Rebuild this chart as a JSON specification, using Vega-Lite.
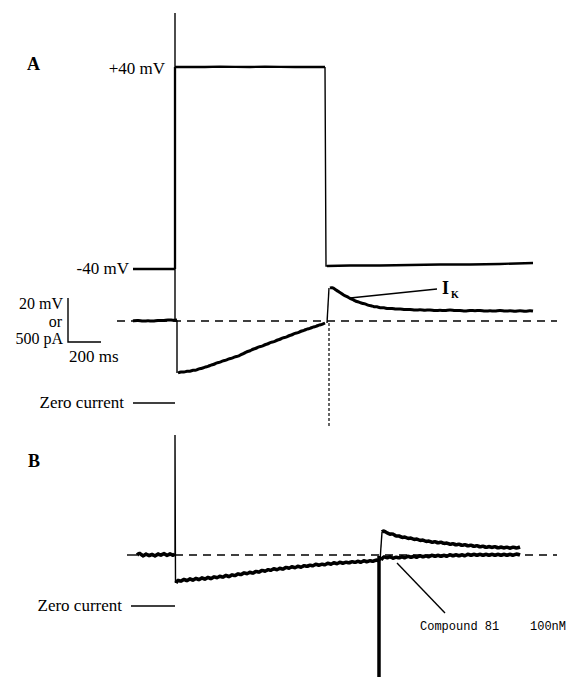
{
"$schema": "https://vega.github.io/schema/vega-lite/v6.json",
"width": 574, "height": 677,
"autosize": {"type": "none"}, "padding": 0, "background": "white",
"config": {"view": {"stroke": null}},
"datasets": {
"voltage": [
{"s":"v1","o":1,"x":133,"y":269},{"s":"v1","o":2,"x":175,"y":269},
{"s":"v2","o":1,"x":175,"y":269},{"s":"v2","o":2,"x":175,"y":67},
{"s":"v3","o":1,"x":175,"y":67},{"s":"v3","o":2,"x":190,"y":66.8},{"s":"v3","o":3,"x":205,"y":67},{"s":"v3","o":4,"x":220,"y":66.6},{"s":"v3","o":5,"x":235,"y":66.8},{"s":"v3","o":6,"x":250,"y":67},{"s":"v3","o":7,"x":265,"y":66.6},{"s":"v3","o":8,"x":280,"y":66.8},{"s":"v3","o":9,"x":295,"y":67},{"s":"v3","o":10,"x":310,"y":66.8},{"s":"v3","o":11,"x":325,"y":67},
{"s":"v4","o":1,"x":327,"y":266},{"s":"v4","o":2,"x":350,"y":265.5},{"s":"v4","o":3,"x":380,"y":265.5},{"s":"v4","o":4,"x":410,"y":265},{"s":"v4","o":5,"x":440,"y":264.5},{"s":"v4","o":6,"x":470,"y":264.5},{"s":"v4","o":7,"x":500,"y":264},{"s":"v4","o":8,"x":533,"y":263}
],
"thin": [
{"s":"t1","o":1,"x":175,"y":13},{"s":"t1","o":2,"x":175,"y":67},
{"s":"t2","o":1,"x":325,"y":67},{"s":"t2","o":2,"x":326,"y":266},{"s":"t2","o":3,"x":328,"y":266},
{"s":"t3","o":1,"x":175,"y":269},{"s":"t3","o":2,"x":175,"y":321},{"s":"t3","o":3,"x":177,"y":321},{"s":"t3","o":4,"x":177,"y":373},
{"s":"t4","o":1,"x":327,"y":323},{"s":"t4","o":2,"x":329,"y":288},
{"s":"t5","o":1,"x":68,"y":298},{"s":"t5","o":2,"x":68,"y":342},{"s":"t5","o":3,"x":101,"y":342},
{"s":"t6","o":1,"x":133,"y":403},{"s":"t6","o":2,"x":175,"y":403},
{"s":"t7","o":1,"x":131,"y":606},{"s":"t7","o":2,"x":175,"y":606},
{"s":"t8","o":1,"x":350,"y":298},{"s":"t8","o":2,"x":437,"y":289},
{"s":"t9","o":1,"x":175,"y":555},{"s":"t9","o":2,"x":175,"y":435},{"s":"t9","o":3,"x":175.5,"y":583},
{"s":"t10","o":1,"x":380,"y":561},{"s":"t10","o":2,"x":382,"y":532},
{"s":"t11","o":1,"x":397,"y":563},{"s":"t11","o":2,"x":445,"y":613},
{"s":"t12","o":1,"x":127,"y":555},{"s":"t12","o":2,"x":137,"y":555}
],
"dashed": [
{"s":"d1","x":117,"y":321},{"s":"d1","x":557,"y":321},
{"s":"d2","x":175,"y":555},{"s":"d2","x":557,"y":555}
],
"dotted": [
{"s":"p1","x":329,"y":323},{"s":"p1","x":329,"y":428}
],
"heavy": [
{"s":"h1","o":1,"x":379,"y":556},{"s":"h1","o":2,"x":379,"y":677}
],
"currentA": [
{"s":"a1","o":1,"x":133,"y":321},{"s":"a1","o":2,"x":138,"y":320},{"s":"a1","o":3,"x":143,"y":321.5},{"s":"a1","o":4,"x":148,"y":320.5},{"s":"a1","o":5,"x":153,"y":321.5},{"s":"a1","o":6,"x":158,"y":320},{"s":"a1","o":7,"x":163,"y":321},{"s":"a1","o":8,"x":168,"y":319.5},{"s":"a1","o":9,"x":173,"y":320.5},{"s":"a1","o":10,"x":177,"y":320},
{"s":"a2","o":1,"x":178,"y":373},{"s":"a2","o":2,"x":181,"y":371.5},{"s":"a2","o":3,"x":184,"y":372.5},{"s":"a2","o":4,"x":187,"y":371},{"s":"a2","o":5,"x":190,"y":371.5},{"s":"a2","o":6,"x":193,"y":370},{"s":"a2","o":7,"x":196,"y":370.5},{"s":"a2","o":8,"x":199,"y":368.5},{"s":"a2","o":9,"x":202,"y":368.5},{"s":"a2","o":10,"x":205,"y":367},{"s":"a2","o":11,"x":208,"y":366.5},{"s":"a2","o":12,"x":211,"y":365},{"s":"a2","o":13,"x":214,"y":364.5},{"s":"a2","o":14,"x":217,"y":362.5},{"s":"a2","o":15,"x":220,"y":362.5},{"s":"a2","o":16,"x":223,"y":360.5},{"s":"a2","o":17,"x":226,"y":360.5},{"s":"a2","o":18,"x":229,"y":358.5},{"s":"a2","o":19,"x":232,"y":358.5},{"s":"a2","o":20,"x":235,"y":356.5},{"s":"a2","o":21,"x":238,"y":356.5},{"s":"a2","o":22,"x":241,"y":354.5},{"s":"a2","o":23,"x":244,"y":353.5},{"s":"a2","o":24,"x":247,"y":351.5},{"s":"a2","o":25,"x":250,"y":351},{"s":"a2","o":26,"x":253,"y":349},{"s":"a2","o":27,"x":256,"y":348.5},{"s":"a2","o":28,"x":259,"y":346.5},{"s":"a2","o":29,"x":262,"y":346.5},{"s":"a2","o":30,"x":265,"y":344.5},{"s":"a2","o":31,"x":268,"y":344},{"s":"a2","o":32,"x":271,"y":342},{"s":"a2","o":33,"x":274,"y":342},{"s":"a2","o":34,"x":277,"y":340},{"s":"a2","o":35,"x":280,"y":339.5},{"s":"a2","o":36,"x":283,"y":337.5},{"s":"a2","o":37,"x":286,"y":337.5},{"s":"a2","o":38,"x":289,"y":335.5},{"s":"a2","o":39,"x":292,"y":335},{"s":"a2","o":40,"x":295,"y":333},{"s":"a2","o":41,"x":298,"y":333},{"s":"a2","o":42,"x":301,"y":331},{"s":"a2","o":43,"x":304,"y":330.5},{"s":"a2","o":44,"x":307,"y":329},{"s":"a2","o":45,"x":310,"y":328.5},{"s":"a2","o":46,"x":313,"y":327},{"s":"a2","o":47,"x":316,"y":326.5},{"s":"a2","o":48,"x":319,"y":325},{"s":"a2","o":49,"x":322,"y":324.5},{"s":"a2","o":50,"x":325,"y":323},
{"s":"a3","o":1,"x":330,"y":288},{"s":"a3","o":2,"x":332,"y":287.5},{"s":"a3","o":3,"x":335,"y":289},{"s":"a3","o":4,"x":338,"y":291.5},{"s":"a3","o":5,"x":341,"y":293},{"s":"a3","o":6,"x":344,"y":295.5},{"s":"a3","o":7,"x":347,"y":296.5},{"s":"a3","o":8,"x":350,"y":298.5},{"s":"a3","o":9,"x":353,"y":299.5},{"s":"a3","o":10,"x":356,"y":301.5},{"s":"a3","o":11,"x":359,"y":302},{"s":"a3","o":12,"x":362,"y":303.5},{"s":"a3","o":13,"x":365,"y":303.5},{"s":"a3","o":14,"x":368,"y":305.5},{"s":"a3","o":15,"x":371,"y":305.5},{"s":"a3","o":16,"x":374,"y":307},{"s":"a3","o":17,"x":377,"y":306.5},{"s":"a3","o":18,"x":380,"y":308},{"s":"a3","o":19,"x":384,"y":307.5},{"s":"a3","o":20,"x":388,"y":309},{"s":"a3","o":21,"x":392,"y":308},{"s":"a3","o":22,"x":396,"y":309.5},{"s":"a3","o":23,"x":400,"y":308.5},{"s":"a3","o":24,"x":405,"y":310},{"s":"a3","o":25,"x":410,"y":309},{"s":"a3","o":26,"x":415,"y":310.5},{"s":"a3","o":27,"x":420,"y":309.5},{"s":"a3","o":28,"x":425,"y":310.5},{"s":"a3","o":29,"x":430,"y":309.5},{"s":"a3","o":30,"x":435,"y":311},{"s":"a3","o":31,"x":440,"y":310},{"s":"a3","o":32,"x":445,"y":311},{"s":"a3","o":33,"x":450,"y":309.5},{"s":"a3","o":34,"x":455,"y":311},{"s":"a3","o":35,"x":460,"y":310},{"s":"a3","o":36,"x":465,"y":311.5},{"s":"a3","o":37,"x":470,"y":310},{"s":"a3","o":38,"x":475,"y":311},{"s":"a3","o":39,"x":480,"y":310},{"s":"a3","o":40,"x":485,"y":311.5},{"s":"a3","o":41,"x":490,"y":310.5},{"s":"a3","o":42,"x":495,"y":311.5},{"s":"a3","o":43,"x":500,"y":310},{"s":"a3","o":44,"x":505,"y":311.5},{"s":"a3","o":45,"x":510,"y":310.5},{"s":"a3","o":46,"x":515,"y":311.5},{"s":"a3","o":47,"x":520,"y":310.5},{"s":"a3","o":48,"x":525,"y":311.5},{"s":"a3","o":49,"x":530,"y":310.5},{"s":"a3","o":50,"x":533,"y":311}
],
"currentB": [
{"s":"b1","o":1,"x":137,"y":555},{"s":"b1","o":2,"x":140,"y":552.5},{"s":"b1","o":3,"x":143,"y":557},{"s":"b1","o":4,"x":146,"y":553},{"s":"b1","o":5,"x":149,"y":556.5},{"s":"b1","o":6,"x":152,"y":553.5},{"s":"b1","o":7,"x":155,"y":557},{"s":"b1","o":8,"x":158,"y":553},{"s":"b1","o":9,"x":161,"y":556},{"s":"b1","o":10,"x":164,"y":552.5},{"s":"b1","o":11,"x":167,"y":556.5},{"s":"b1","o":12,"x":170,"y":553},{"s":"b1","o":13,"x":173,"y":556},{"s":"b1","o":14,"x":175,"y":554},
{"s":"b2","o":1,"x":176,"y":583},{"s":"b2","o":2,"x":178,"y":579.5},{"s":"b2","o":3,"x":181,"y":582},{"s":"b2","o":4,"x":184,"y":578.5},{"s":"b2","o":5,"x":187,"y":581.5},{"s":"b2","o":6,"x":190,"y":578},{"s":"b2","o":7,"x":193,"y":581},{"s":"b2","o":8,"x":196,"y":577.5},{"s":"b2","o":9,"x":199,"y":580.5},{"s":"b2","o":10,"x":202,"y":577},{"s":"b2","o":11,"x":205,"y":580},{"s":"b2","o":12,"x":208,"y":576.5},{"s":"b2","o":13,"x":211,"y":579.5},{"s":"b2","o":14,"x":214,"y":576},{"s":"b2","o":15,"x":217,"y":578.5},{"s":"b2","o":16,"x":220,"y":575.5},{"s":"b2","o":17,"x":223,"y":578},{"s":"b2","o":18,"x":226,"y":574.5},{"s":"b2","o":19,"x":229,"y":577.5},{"s":"b2","o":20,"x":232,"y":574},{"s":"b2","o":21,"x":235,"y":576.5},{"s":"b2","o":22,"x":238,"y":573},{"s":"b2","o":23,"x":241,"y":575.5},{"s":"b2","o":24,"x":244,"y":572},{"s":"b2","o":25,"x":247,"y":574.5},{"s":"b2","o":26,"x":250,"y":571.5},{"s":"b2","o":27,"x":253,"y":574},{"s":"b2","o":28,"x":256,"y":570.5},{"s":"b2","o":29,"x":259,"y":573},{"s":"b2","o":30,"x":262,"y":569.5},{"s":"b2","o":31,"x":265,"y":572},{"s":"b2","o":32,"x":268,"y":569},{"s":"b2","o":33,"x":271,"y":571},{"s":"b2","o":34,"x":274,"y":568},{"s":"b2","o":35,"x":277,"y":570.5},{"s":"b2","o":36,"x":280,"y":567.5},{"s":"b2","o":37,"x":283,"y":570},{"s":"b2","o":38,"x":286,"y":566.5},{"s":"b2","o":39,"x":289,"y":569},{"s":"b2","o":40,"x":292,"y":566},{"s":"b2","o":41,"x":295,"y":568.5},{"s":"b2","o":42,"x":298,"y":565.5},{"s":"b2","o":43,"x":301,"y":568},{"s":"b2","o":44,"x":304,"y":565},{"s":"b2","o":45,"x":307,"y":567},{"s":"b2","o":46,"x":310,"y":564.5},{"s":"b2","o":47,"x":313,"y":566.5},{"s":"b2","o":48,"x":316,"y":563.5},{"s":"b2","o":49,"x":319,"y":566},{"s":"b2","o":50,"x":322,"y":563.5},{"s":"b2","o":51,"x":325,"y":565.5},{"s":"b2","o":52,"x":328,"y":562.5},{"s":"b2","o":53,"x":331,"y":565},{"s":"b2","o":54,"x":334,"y":562},{"s":"b2","o":55,"x":337,"y":564.5},{"s":"b2","o":56,"x":340,"y":561.5},{"s":"b2","o":57,"x":343,"y":564},{"s":"b2","o":58,"x":346,"y":561.5},{"s":"b2","o":59,"x":349,"y":563.5},{"s":"b2","o":60,"x":352,"y":561},{"s":"b2","o":61,"x":355,"y":563},{"s":"b2","o":62,"x":358,"y":560.5},{"s":"b2","o":63,"x":361,"y":563},{"s":"b2","o":64,"x":364,"y":560},{"s":"b2","o":65,"x":367,"y":562.5},{"s":"b2","o":66,"x":370,"y":560},{"s":"b2","o":67,"x":373,"y":562},{"s":"b2","o":68,"x":376,"y":559.5},{"s":"b2","o":69,"x":379,"y":561},
{"s":"b3","o":1,"x":382,"y":532},{"s":"b3","o":2,"x":384,"y":530.5},{"s":"b3","o":3,"x":387,"y":533},{"s":"b3","o":4,"x":390,"y":534.5},{"s":"b3","o":5,"x":393,"y":533.5},{"s":"b3","o":6,"x":396,"y":536.5},{"s":"b3","o":7,"x":399,"y":535.5},{"s":"b3","o":8,"x":402,"y":538},{"s":"b3","o":9,"x":405,"y":536.5},{"s":"b3","o":10,"x":408,"y":539},{"s":"b3","o":11,"x":411,"y":537.5},{"s":"b3","o":12,"x":414,"y":540},{"s":"b3","o":13,"x":417,"y":538.5},{"s":"b3","o":14,"x":420,"y":541},{"s":"b3","o":15,"x":423,"y":539.5},{"s":"b3","o":16,"x":426,"y":542},{"s":"b3","o":17,"x":429,"y":540.5},{"s":"b3","o":18,"x":432,"y":543},{"s":"b3","o":19,"x":435,"y":541},{"s":"b3","o":20,"x":438,"y":543.5},{"s":"b3","o":21,"x":441,"y":541.5},{"s":"b3","o":22,"x":444,"y":544},{"s":"b3","o":23,"x":447,"y":542.5},{"s":"b3","o":24,"x":450,"y":545},{"s":"b3","o":25,"x":453,"y":543},{"s":"b3","o":26,"x":456,"y":545.5},{"s":"b3","o":27,"x":459,"y":543.5},{"s":"b3","o":28,"x":462,"y":546},{"s":"b3","o":29,"x":465,"y":544},{"s":"b3","o":30,"x":468,"y":546.5},{"s":"b3","o":31,"x":471,"y":544.5},{"s":"b3","o":32,"x":474,"y":547},{"s":"b3","o":33,"x":477,"y":545},{"s":"b3","o":34,"x":480,"y":547.5},{"s":"b3","o":35,"x":483,"y":545.5},{"s":"b3","o":36,"x":486,"y":548},{"s":"b3","o":37,"x":489,"y":546},{"s":"b3","o":38,"x":492,"y":548},{"s":"b3","o":39,"x":495,"y":546},{"s":"b3","o":40,"x":498,"y":548.5},{"s":"b3","o":41,"x":501,"y":546.5},{"s":"b3","o":42,"x":504,"y":548.5},{"s":"b3","o":43,"x":507,"y":546.5},{"s":"b3","o":44,"x":510,"y":549},{"s":"b3","o":45,"x":513,"y":546.5},{"s":"b3","o":46,"x":516,"y":548.5},{"s":"b3","o":47,"x":520,"y":547},
{"s":"b4","o":1,"x":381,"y":560},{"s":"b4","o":2,"x":384,"y":556},{"s":"b4","o":3,"x":387,"y":558.5},{"s":"b4","o":4,"x":390,"y":556},{"s":"b4","o":5,"x":393,"y":559},{"s":"b4","o":6,"x":396,"y":556.5},{"s":"b4","o":7,"x":399,"y":558.5},{"s":"b4","o":8,"x":402,"y":556},{"s":"b4","o":9,"x":405,"y":558.5},{"s":"b4","o":10,"x":408,"y":555.5},{"s":"b4","o":11,"x":411,"y":558},{"s":"b4","o":12,"x":414,"y":555.5},{"s":"b4","o":13,"x":417,"y":558},{"s":"b4","o":14,"x":420,"y":555},{"s":"b4","o":15,"x":423,"y":557.5},{"s":"b4","o":16,"x":426,"y":555},{"s":"b4","o":17,"x":429,"y":557.5},{"s":"b4","o":18,"x":432,"y":554.5},{"s":"b4","o":19,"x":435,"y":557},{"s":"b4","o":20,"x":438,"y":554.5},{"s":"b4","o":21,"x":441,"y":557},{"s":"b4","o":22,"x":444,"y":554.5},{"s":"b4","o":23,"x":447,"y":557},{"s":"b4","o":24,"x":450,"y":554},{"s":"b4","o":25,"x":453,"y":556.5},{"s":"b4","o":26,"x":456,"y":554},{"s":"b4","o":27,"x":459,"y":556.5},{"s":"b4","o":28,"x":462,"y":554},{"s":"b4","o":29,"x":465,"y":556.5},{"s":"b4","o":30,"x":468,"y":553.5},{"s":"b4","o":31,"x":471,"y":556},{"s":"b4","o":32,"x":474,"y":553.5},{"s":"b4","o":33,"x":477,"y":556},{"s":"b4","o":34,"x":480,"y":553.5},{"s":"b4","o":35,"x":483,"y":556},{"s":"b4","o":36,"x":486,"y":553.5},{"s":"b4","o":37,"x":489,"y":556},{"s":"b4","o":38,"x":492,"y":553.5},{"s":"b4","o":39,"x":495,"y":556},{"s":"b4","o":40,"x":498,"y":553.5},{"s":"b4","o":41,"x":501,"y":556},{"s":"b4","o":42,"x":504,"y":553.5},{"s":"b4","o":43,"x":507,"y":556},{"s":"b4","o":44,"x":510,"y":553.5},{"s":"b4","o":45,"x":513,"y":556},{"s":"b4","o":46,"x":516,"y":553.5},{"s":"b4","o":47,"x":520,"y":555}
],
"labelsRight": [
{"x":165,"y":69,"t":"+40 mV"},{"x":129,"y":269,"t":"-40 mV"},{"x":124,"y":403,"t":"Zero current"},{"x":122,"y":606,"t":"Zero current"}
],
"labelsScale": [
{"x":63,"y":304,"t":"20 mV"},{"x":62,"y":321.5,"t":"or"},{"x":63,"y":339,"t":"500 pA"}
],
"labelsLeft": [{"x":69,"y":357,"t":"200 ms"}],
"labelsBold": [{"x":27,"y":65,"t":"A"},{"x":28,"y":462,"t":"B"},{"x":442,"y":289,"t":"I"}],
"labelsSub": [{"x":451,"y":295,"t":"K"}],
"labelsMono": [{"x":420,"y":626,"t":"Compound 81"},{"x":530,"y":626,"t":"100nM"}]
},
"encoding": {
"x": {"field":"x","type":"quantitative","scale":{"domain":[0,574],"nice":false,"zero":false},"axis":null},
"y": {"field":"y","type":"quantitative","scale":{"domain":[0,677],"nice":false,"zero":false,"reverse":true},"axis":null}
},
"layer": [
{"data":{"name":"dashed"},"mark":{"type":"line","color":"black","strokeWidth":1.3,"strokeDash":[8,6]},"encoding":{"detail":{"field":"s"}}},
{"data":{"name":"dotted"},"mark":{"type":"line","color":"black","strokeWidth":1.2,"strokeDash":[3,2]},"encoding":{"detail":{"field":"s"}}},
{"data":{"name":"thin"},"mark":{"type":"line","color":"black","strokeWidth":1.4},"encoding":{"detail":{"field":"s"},"order":{"field":"o"}}},
{"data":{"name":"voltage"},"mark":{"type":"line","color":"black","strokeWidth":2.3},"encoding":{"detail":{"field":"s"},"order":{"field":"o"}}},
{"data":{"name":"currentA"},"mark":{"type":"line","color":"black","strokeWidth":3,"interpolate":"basis"},"encoding":{"detail":{"field":"s"},"order":{"field":"o"}}},
{"data":{"name":"currentA"},"mark":{"type":"line","color":"black","strokeWidth":1},"encoding":{"detail":{"field":"s"},"order":{"field":"o"}}},
{"data":{"name":"currentB"},"mark":{"type":"line","color":"black","strokeWidth":3.6,"interpolate":"basis"},"encoding":{"detail":{"field":"s"},"order":{"field":"o"}}},
{"data":{"name":"currentB"},"mark":{"type":"line","color":"black","strokeWidth":1.2},"encoding":{"detail":{"field":"s"},"order":{"field":"o"}}},
{"data":{"name":"heavy"},"mark":{"type":"line","color":"black","strokeWidth":3.5},"encoding":{"detail":{"field":"s"},"order":{"field":"o"}}},
{"data":{"name":"labelsRight"},"mark":{"type":"text","align":"right","baseline":"middle","font":"Liberation Serif","fontSize":17,"color":"black"},"encoding":{"text":{"field":"t"}}},
{"data":{"name":"labelsScale"},"mark":{"type":"text","align":"right","baseline":"middle","font":"Liberation Serif","fontSize":16,"color":"black"},"encoding":{"text":{"field":"t"}}},
{"data":{"name":"labelsLeft"},"mark":{"type":"text","align":"left","baseline":"middle","font":"Liberation Serif","fontSize":17,"color":"black"},"encoding":{"text":{"field":"t"}}},
{"data":{"name":"labelsBold"},"mark":{"type":"text","align":"left","baseline":"middle","font":"Liberation Serif","fontSize":18,"fontWeight":"bold","color":"black"},"encoding":{"text":{"field":"t"}}},
{"data":{"name":"labelsSub"},"mark":{"type":"text","align":"left","baseline":"middle","font":"Liberation Serif","fontSize":10,"fontWeight":"bold","color":"black"},"encoding":{"text":{"field":"t"}}},
{"data":{"name":"labelsMono"},"mark":{"type":"text","align":"left","baseline":"middle","font":"Liberation Mono","fontSize":12,"color":"black"},"encoding":{"text":{"field":"t"}}}
]
}
